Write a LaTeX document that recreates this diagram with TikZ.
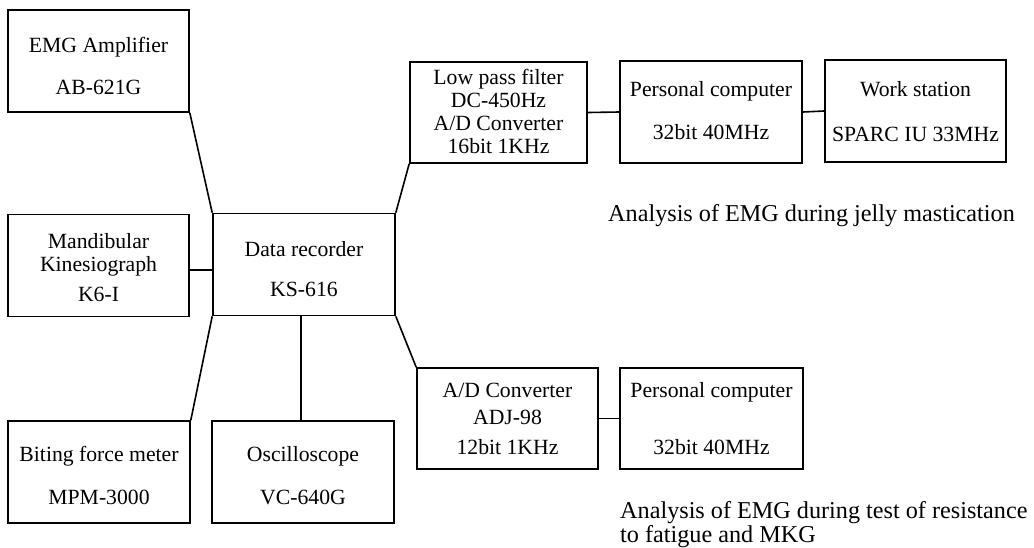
\documentclass[tikz,border=0pt]{standalone}
\usepackage{fontspec}
\setmainfont{Liberation Serif}
\begin{document}
\begin{tikzpicture}[x=1pt,y=-1pt,
  box/.style={draw, line width=1.6pt, inner sep=0pt, minimum height=102pt, minimum width=181pt},
  txt/.style={align=center, font=\fontsize{21.7}{23}\selectfont, inner sep=0pt},
  note/.style={align=left, font=\fontsize{24.2}{21}\selectfont, inner sep=0pt},
  link/.style={line width=1.6pt}]
\useasboundingbox (0,0) rectangle (1034,547);

% boxes
\node[box] (emg) at (98.5,61) {};
\node[box] (mk)  at (98.5,265.5) {};
\node[box, minimum width=182pt] (dr)  at (304,264.5) {};
\node[box, minimum width=182pt] (bf)  at (99,472) {};
\node[box, minimum width=182pt] (osc) at (303,472) {};
\node[box, minimum width=177pt, minimum height=101pt] (lp)  at (498.5,112.5) {};
\node[box, minimum width=182pt] (pc1) at (711,112) {};
\node[box] (ws)  at (915.5,111) {};
\node[box, minimum width=181pt, minimum height=101pt] (ad)  at (507.5,418.5) {};
\node[box, minimum width=183pt, minimum height=101pt] (pc2) at (711.5,418.5) {};

% texts in boxes
\node[txt] (emgt) at (98.5,66.25) {EMG Amplifier\\[19pt]AB-621G};
\node[txt] (mkt)  at (98.5,267.75) {Mandibular\\Kinesiograph\\[7pt]K6-I};
\node[txt] (drt)  at (304,269.25) {Data recorder\\[17pt]KS-616};
\node[txt] (bft)  at (99,475.75) {Biting force meter\\[20pt]MPM-3000};
\node[txt] (osct) at (303,475.75) {Oscilloscope\\[20pt]VC-640G};
\node[txt] (lpt)  at (498.5,111.75) {Low pass filter\\DC-450Hz\\A/D Converter\\16bit 1KHz};
\node[txt] (pc1t) at (711,110.75) {Personal computer\\[20pt]32bit 40MHz};
\node[txt] (wst)  at (915.5,111.25) {Work station\\[22pt]SPARC IU 33MHz};
\node[txt] (adt)  at (507.5,418.75) {A/D Converter\\[4pt]ADJ-98\\[7pt]12bit 1KHz};
\node[txt] (pc2t) at (711.5,418.75) {Personal computer\\[34pt]32bit 40MHz};

% connectors
\draw[link] (emg.south east) -- (dr.north west);
\draw[link] ([yshift=-4.5pt]mk.east) -- ([yshift=-4.5pt]mk.east -| dr.west);
\draw[link] (dr.south west) -- (bf.north east);
\draw[link] ([xshift=-3pt]dr.south) -- ([xshift=-3pt]dr.south |- osc.north);
\draw[link] (dr.north east) -- (lp.south west);
\draw[link] (dr.south east) -- (ad.north west);
\draw[link] (lp.east) -- (pc1.west);
\draw[link] (pc1.east) -- (ws.west);
\draw[link] (ad.east) -- (pc2.west);

% annotations
\node[note, anchor=base west] (jelly) at (608,221) {Analysis of EMG during jelly mastication};
\node[note, anchor=north west] (fatigue) at (620,501.5) {Analysis of EMG during test of resistance\\to fatigue and MKG};
\end{tikzpicture}
\end{document}
